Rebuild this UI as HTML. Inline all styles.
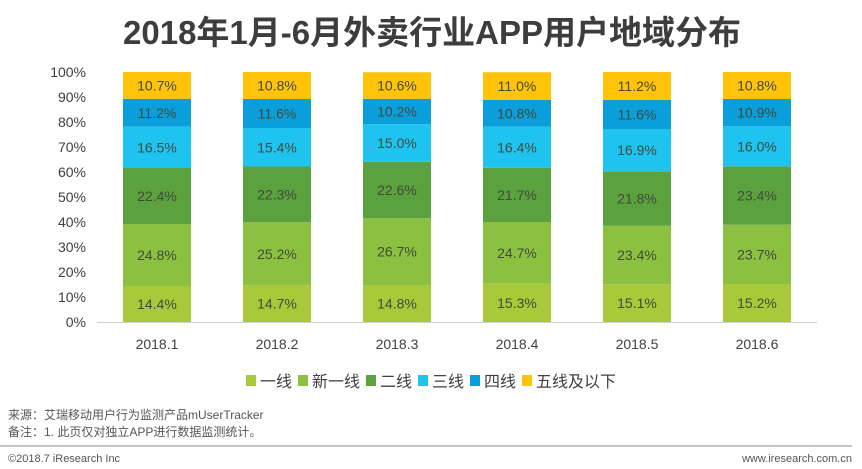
<!DOCTYPE html>
<html><head><meta charset="utf-8"><style>
body{margin:0;background:#fff;font-family:"Liberation Sans","Noto Sans CJK SC",sans-serif;}
#wrap{position:relative;width:862px;height:469px;overflow:hidden;}
</style></head><body>
<div id="wrap">
<svg id="chart" width="862" height="469">
<text x="432" y="44" text-anchor="middle" font-size="33" font-weight="bold" fill="#3d3d3d" font-family="Liberation Sans, Noto Sans CJK SC, sans-serif">2018年1月-6月外卖行业APP用户地域分布</text>
<g id="yaxis"></g><g id="bars"></g><g id="xaxis"></g><g id="legend"></g>
<text x="8" y="419" font-size="12" fill="#555">来源：艾瑞移动用户行为监测产品mUserTracker</text>
<text x="8" y="436" font-size="12" fill="#555">备注：1. 此页仅对独立APP进行数据监测统计。</text>
<line x1="0" y1="446" x2="852" y2="446" stroke="#888" stroke-width="1"/>
<text x="8" y="462" font-size="11" fill="#555">©2018.7 iResearch Inc</text>
<text x="852" y="462" font-size="11" fill="#555" text-anchor="end">www.iresearch.com.cn</text>
</svg>
</div>
<script>
const categories=["2018.1","2018.2","2018.3","2018.4","2018.5","2018.6"];
const seriesNames=["一线","新一线","二线","三线","四线","五线及以下"];
const tier1=[14.4,14.7,14.8,15.3,15.1,15.2];
const newTier1=[24.8,25.2,26.7,24.7,23.4,23.7];
const tier2=[22.4,22.3,22.6,21.7,21.8,23.4];
const tier3=[16.5,15.4,15.0,16.4,16.9,16.0];
const tier4=[11.2,11.6,10.2,10.8,11.6,10.9];
const tier5=[10.7,10.8,10.6,11.0,11.2,10.8];
const yTicks=[0,10,20,30,40,50,60,70,80,90,100];
const series=[tier1,newTier1,tier2,tier3,tier4,tier5];
const colors=["#a8c93a","#8cc040","#5ba23f","#1fc3f0","#0a9fda","#ffc40a"];
const ns="http://www.w3.org/2000/svg";
const Y0=322,Y1=72,X0=97,STEP=120,BW=68;
function y(v){return Y0-(Y0-Y1)*v/100;}
function xc(i){return X0+STEP*(i+0.5);}
function mk(tag,attrs,parent){const e=document.createElementNS(ns,tag);for(const k in attrs)e.setAttribute(k,attrs[k]);parent.appendChild(e);return e;}
const yg=document.getElementById('yaxis'),bg=document.getElementById('bars'),xg=document.getElementById('xaxis'),lg=document.getElementById('legend');
yTicks.forEach(t=>{const e=mk('text',{x:86,y:y(t)+5,'text-anchor':'end','font-size':14,fill:'#404040'},yg);e.textContent=t+'%';

});
const ax=mk('line',{x1:X0,x2:X0+STEP*6,y1:Y0+0.5,y2:Y0+0.5,stroke:'#d0d0d0'},xg);


categories.forEach((c,i)=>{
  let cum=0;
  series.forEach((s,j)=>{
    const v=s[i];const top=y(cum+v),bot=y(cum);
    const r=mk('rect',{x:xc(i)-BW/2,y:top,width:BW,height:bot-top,fill:colors[j]},bg);
    
    
    const t=mk('text',{x:xc(i),y:(top+bot)/2+5,'text-anchor':'middle','font-size':14,fill:'#404a3c'},bg);
    t.textContent=v.toFixed(1)+'%';
    
    
    cum+=v;
  });
  const xl=mk('text',{x:xc(i),y:349,'text-anchor':'middle','font-size':14,fill:'#404040'},xg);xl.textContent=c;
  
  
});
let lx=246;
seriesNames.forEach((n,j)=>{
  const g=mk('g',{},lg);
  
  
  mk('rect',{x:lx,y:375,width:10,height:11,fill:colors[j]},g);
  const t=mk('text',{x:lx+14,y:387,'font-size':16,fill:'#404040'},g);t.textContent=n;
  lx+=14+n.length*16+6;
});
</script>
</body></html>
